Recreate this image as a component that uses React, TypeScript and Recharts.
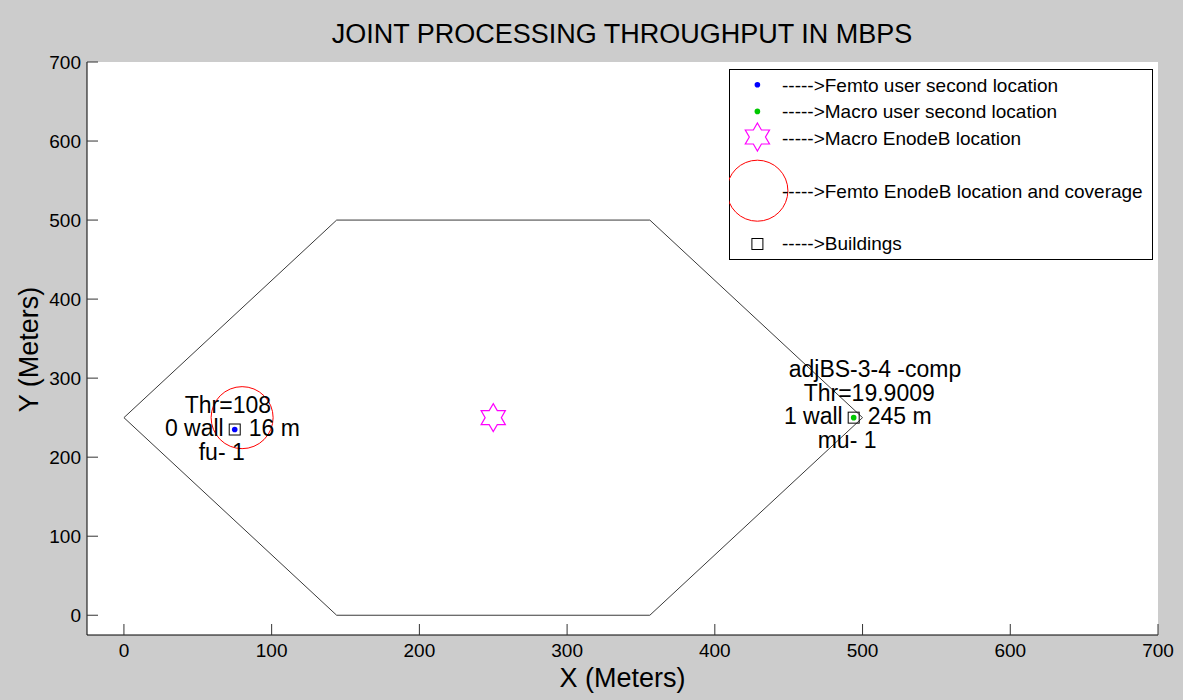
import { ScatterChart, Scatter, XAxis, YAxis, ReferenceArea, Legend, Label } from "recharts";

// axis ticks
const xTicks = [0, 100, 200, 300, 400, 500, 600, 700];
const yTicks = [0, 100, 200, 300, 400, 500, 600, 700];

// hexagonal cell outline
const hexX = [0, 144, 356, 500, 356, 144, 0];
const hexY = [250, 500, 500, 250, 0, 0, 250];

// base stations
const femtoBsX = [80];
const femtoBsY = [250];
const macroBsX = [250];
const macroBsY = [250];

// users
const femtoUserX = [75];
const femtoUserY = [235];
const macroUserX = [494];
const macroUserY = [250];

// buildings
const buildingX = [75, 494];
const buildingY = [235, 250];

// text notes next to each user
const noteX = [75, 494];
const noteY = [235, 250];
const noteHead = [["Thr=108"], ["adjBS-3-4 -comp", "Thr=19.9009"]];
const noteWalls = ["0 wall", "1 wall"];
const noteDist = ["16 m", "245 m"];
const noteTag = ["fu- 1", "mu- 1"];

const legendLabels = [
  "----->Femto user second location",
  "----->Macro user second location",
  "----->Macro EnodeB location",
  "----->Femto EnodeB location and coverage",
  "----->Buildings",
];

const FONT = "'Liberation Sans', Arial, sans-serif";

const zip = (xs: number[], ys: number[]) => xs.map((x, i) => ({ x, y: ys[i] }));

const hexData = zip(hexX, hexY);
const femtoBsData = zip(femtoBsX, femtoBsY);
const macroBsData = zip(macroBsX, macroBsY);
const femtoUserData = zip(femtoUserX, femtoUserY);
const macroUserData = zip(macroUserX, macroUserY);
const buildingData = zip(buildingX, buildingY);
const noteData = noteX.map((x, i) => ({
  x,
  y: noteY[i],
  head: noteHead[i],
  walls: noteWalls[i],
  dist: noteDist[i],
  tag: noteTag[i],
}));

function starPath(cx: number, cy: number, R: number) {
  const r = R / Math.sqrt(3);
  const pts: string[] = [];
  for (let k = 0; k < 12; k++) {
    const a = -Math.PI / 2 + (k * Math.PI) / 6;
    const rad = k % 2 === 0 ? R : r;
    pts.push(`${(cx + rad * Math.cos(a)).toFixed(2)},${(cy + rad * Math.sin(a)).toFixed(2)}`);
  }
  return "M" + pts.join("L") + "Z";
}

const Nothing = () => <g />;

const StarShape = (p: any) => (
  <path d={starPath(p.cx, p.cy, 14)} fill="none" stroke="#ff00ff" strokeWidth={1.2} />
);

const CoverageShape = (p: any) => (
  <circle cx={p.cx} cy={p.cy} r={31} fill="none" stroke="#ff0000" strokeWidth={1} />
);

const BuildingShape = (p: any) => (
  <rect x={p.cx - 5.5} y={p.cy - 5.5} width={11} height={11} fill="none" stroke="#000" strokeWidth={1} />
);

const dotShape = (color: string) => (p: any) => <circle cx={p.cx} cy={p.cy} r={2.8} fill={color} />;

const NoteShape = (p: any) => {
  const d = p.payload;
  const head: string[] = d.head;
  return (
    <g fontFamily={FONT} fontSize={23} fill="#000">
      {head.map((t, i) => {
        const fromBottom = head.length - 1 - i;
        return (
          <text key={t} x={p.cx + (fromBottom === 0 ? -50 : -65)} y={p.cy - 17 - fromBottom * 24}>
            {t}
          </text>
        );
      })}
      <text x={p.cx - 11} y={p.cy + 6.5} textAnchor="end">
        {d.walls}
      </text>
      <text x={p.cx + 14} y={p.cy + 6.5}>
        {d.dist}
      </text>
      <text x={p.cx - 36} y={p.cy + 30.5}>
        {d.tag}
      </text>
    </g>
  );
};

const XTick = (p: any) => (
  <g>
    <line x1={p.x} y1={p.y} x2={p.x} y2={p.y - 11} stroke="#333" />
    <text x={p.x} y={p.y + 22} textAnchor="middle" fontFamily={FONT} fontSize={19} fill="#000">
      {p.payload.value}
    </text>
  </g>
);

const YTick = (p: any) => (
  <g>
    <line x1={p.x} y1={p.y} x2={p.x + 11} y2={p.y} stroke="#333" />
    <text x={p.x - 6} y={p.y + 6.7} textAnchor="end" fontFamily={FONT} fontSize={19} fill="#000">
      {p.payload.value}
    </text>
  </g>
);

const XLabel = (p: any) => {
  const vb = p.viewBox;
  return (
    <text x={vb.x + vb.width / 2} y={vb.y + 51.5} textAnchor="middle" fontFamily={FONT} fontSize={27} fill="#000">
      X (Meters)
    </text>
  );
};

const YLabel = (p: any) => {
  const vb = p.viewBox;
  const cx = vb.x + vb.width - 49;
  const cy = vb.y + vb.height / 2 + 1;
  return (
    <text
      x={cx}
      y={cy}
      transform={`rotate(-90 ${cx} ${cy})`}
      textAnchor="middle"
      fontFamily={FONT}
      fontSize={27}
      fill="#000"
    >
      Y (Meters)
    </text>
  );
};

const LegendBox = () => {
  const mx = 28.4;
  const tx = 53;
  const rows = [
    { my: 15.7, ty: 23 },
    { my: 42.4, ty: 49.2 },
    { my: 68, ty: 75.7 },
    { my: 121.7, ty: 129 },
    { my: 175, ty: 181.4 },
  ];
  return (
    <svg width={425} height={192} style={{ display: "block" }}>
      <rect x={0.5} y={0.5} width={423} height={190} fill="#fff" stroke="#000" />
      <circle cx={mx} cy={rows[0].my} r={2.8} fill="#0000ff" />
      <circle cx={mx} cy={rows[1].my} r={2.8} fill="#00c800" />
      <path d={starPath(mx, rows[2].my, 14)} fill="none" stroke="#ff00ff" strokeWidth={1.2} />
      <circle cx={mx} cy={rows[3].my} r={30.5} fill="none" stroke="#ff0000" />
      <rect x={mx - 5.5} y={rows[4].my - 5.5} width={11} height={11} fill="none" stroke="#000" />
      {legendLabels.map((t, i) => (
        <text key={t} x={tx} y={rows[i].ty} fontFamily={FONT} fontSize={19} fill="#000">
          {t}
        </text>
      ))}
    </svg>
  );
};

export default function App() {
  return (
    <div style={{ position: "absolute", left: 0, top: 0, width: 1183, height: 700, background: "#cccccc" }}>
      <svg width={1183} height={60} style={{ position: "absolute", left: 0, top: 0 }}>
        <text x={622} y={43} textAnchor="middle" fontFamily={FONT} fontSize={27} fill="#000">
          JOINT PROCESSING THROUGHPUT IN MBPS
        </text>
      </svg>
      <div style={{ position: "absolute", left: 87, top: 62, width: 1071, height: 573, background: "#fff" }} />
      <div style={{ position: "absolute", left: 0, top: 0 }}>
        <ScatterChart width={1183} height={700} margin={{ top: 62, right: 25, bottom: 63, left: 85 }}>
          <XAxis
            type="number"
            dataKey="x"
            domain={[-25, 700]}
            ticks={xTicks}
            interval={0}
            allowDataOverflow
            height={2}
            tickSize={0}
            tickMargin={0}
            tickLine={false}
            tick={XTick}
            axisLine={{ stroke: "#000" }}
          >
            <Label content={XLabel} />
          </XAxis>
          <YAxis
            type="number"
            dataKey="y"
            domain={[-25, 700]}
            ticks={yTicks}
            interval={0}
            allowDataOverflow
            width={2}
            tickSize={0}
            tickMargin={0}
            tickLine={false}
            tick={YTick}
            axisLine={{ stroke: "#000" }}
          >
            <Label content={YLabel} />
          </YAxis>
          <Scatter
            data={hexData}
            line={{ stroke: "#3a3a3a", strokeWidth: 1 }}
            lineType="joint"
            shape={Nothing}
            isAnimationActive={false}
          />
          <Scatter data={femtoBsData} shape={CoverageShape} isAnimationActive={false} />
          <Scatter data={macroBsData} shape={StarShape} isAnimationActive={false} />
          <Scatter data={buildingData} shape={BuildingShape} isAnimationActive={false} />
          <Scatter data={femtoUserData} shape={dotShape("#0000ff")} isAnimationActive={false} />
          <Scatter data={macroUserData} shape={dotShape("#00c800")} isAnimationActive={false} />
          <Scatter data={noteData} shape={NoteShape} isAnimationActive={false} />
          <Legend
            layout="vertical"
            align="center"
            verticalAlign="middle"
            content={LegendBox}
            wrapperStyle={{ position: "absolute", left: 729, top: 69, width: 425, height: 192 }}
          />
        </ScatterChart>
      </div>
    </div>
  );
}
